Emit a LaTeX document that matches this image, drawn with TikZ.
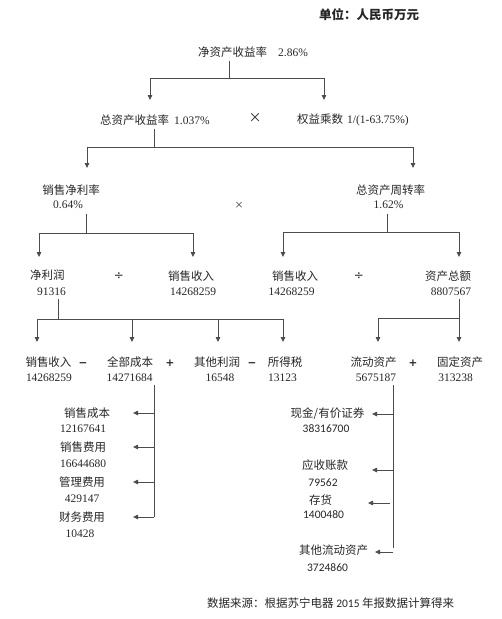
\documentclass[tikz,border=0pt]{standalone}
\usepackage{fontspec}
\setmainfont{Noto Sans CJK SC}
\newfontfamily\cjkf{Noto Sans CJK SC}
\newfontfamily\tnr{Liberation Serif}
\newfontfamily\calfont{Carlito}
\newfontfamily\djv{DejaVu Sans}
\usetikzlibrary{arrows.meta}
\newcommand{\cjkph}{\vphantom{\cjkf\fontsize{11.5}{13}\selectfont 国}}
\begin{document}
\begin{tikzpicture}[x=1pt,y=-1pt,
  txt/.style={inner sep=0pt, text=black!85, font=\fontsize{11.5}{13}\selectfont},
  num/.style={txt, font=\tnr\fontsize{11.5}{13}\selectfont},
  numc/.style={txt, font=\calfont\fontsize{11.5}{13}\selectfont},
  op/.style={txt, font=\djv\bfseries\fontsize{10.5}{13}\selectfont},
  ln/.style={draw=black!70, line width=0.8pt},
  arr/.style={ln, -{Triangle[length=5pt,width=4.5pt]}}]
\useasboundingbox (0,0) rectangle (502,619);

% title
\node[txt, font=\bfseries\fontsize{12.5}{14}\selectfont] (unit) at (369,15) {单位：人民币万元};

% level 0
\node[txt, anchor=west] (roe) at (198,52) {净资产收益率\hspace{11pt}{\tnr 2.86\%}};
% level 1
\node[txt, anchor=west] (roa) at (100,120) {总资产收益率\hspace{5pt}{\tnr 1.037\%}};
\node[txt, font=\fontsize{13}{14}\selectfont] (x1) at (255,118) {×};
\node[txt, anchor=east] (em) at (409,120) {权益乘数\hspace{4pt}{\tnr 1/(1-63.75\%)}};
% level 2
\node[txt] (npm) at (71,190) {销售净利率};
\node[num] (npmv) at (68,205) {0.64\%};
\node[txt, font=\fontsize{9}{10}\selectfont] (x2) at (239,205) {×};
\node[txt] (tat) at (390.5,190) {总资产周转率};
\node[num] (tatv) at (388.5,205) {1.62\%};
% level 3
\node[txt] (np) at (47.5,275) {净利润};
\node[num] (npv) at (51.5,292) {91316};
\node[op, font=\djv\fontsize{12}{13}\selectfont] (d1) at (119,275) {\cjkph÷};
\node[txt] (rev1) at (191,276) {销售收入};
\node[num] (rev1v) at (193,292) {14268259};
\node[txt] (rev2) at (295,276) {销售收入};
\node[num] (rev2v) at (291.5,292) {14268259};
\node[op, font=\djv\fontsize{12}{13}\selectfont] (d2) at (359,275) {\cjkph÷};
\node[txt] (ta) at (448,276) {资产总额};
\node[num] (tav) at (451,292) {8807567};
% level 4
\node[txt] (s1) at (48.5,362) {销售收入};
\node[num] (s1v) at (49,378) {14268259};
\node[op] (o1) at (83,362) {\cjkph−};
\node[txt] (s2) at (130,362) {全部成本};
\node[num] (s2v) at (129.5,378) {14271684};
\node[op] (o2) at (170,362) {\cjkph+};
\node[txt] (s3) at (217,362) {其他利润};
\node[num] (s3v) at (220,378) {16548};
\node[op] (o3) at (252,362) {\cjkph−};
\node[txt] (s4) at (285,362) {所得税};
\node[num] (s4v) at (282.5,378) {13123};
\node[txt] (s5) at (373.5,362) {流动资产};
\node[num] (s5v) at (376,378) {5675187};
\node[op] (o4) at (413,362) {\cjkph+};
\node[txt] (s6) at (460,362) {固定资产};
\node[num] (s6v) at (455.5,378) {313238};
% left sublist
\node[txt] (c1) at (87,413) {销售成本};
\node[num] (c1v) at (83,429) {12167641};
\node[txt] (c2) at (83,447) {销售费用};
\node[num] (c2v) at (83,464) {16644680};
\node[txt] (c3) at (82,482) {管理费用};
\node[num] (c3v) at (82,499) {429147};
\node[txt] (c4) at (82,517) {财务费用};
\node[num] (c4v) at (80,534) {10428};
% right sublist
\node[txt] (a1) at (327.5,414) {现金/有价证券};
\node[numc] (a1v) at (326,429) {38316700};
\node[txt] (a2) at (325,465) {应收账款};
\node[numc] (a2v) at (323,483) {79562};
\node[txt] (a3) at (320.5,500) {存货};
\node[numc] (a3v) at (323.5,515) {1400480};
\node[txt] (a4) at (333.5,550) {其他流动资产};
\node[numc] (a4v) at (327.5,568) {3724860};
% source
\node[txt, anchor=west] (src) at (207,603) {数据来源：根据苏宁电器 {\calfont 2015} 年报数据计算得来};

% junctions and tips
\coordinate (j0) at (229,78);
\coordinate (t0a) at (150,100); \coordinate (t0b) at (324,100);
\coordinate (j1) at (154,147);
\coordinate (t1a) at (87,168); \coordinate (t1b) at (413,168);
\coordinate (j2a) at (86,233);
\coordinate (t2a) at (39,257); \coordinate (t2b) at (193,257);
\coordinate (j2b) at (387,232);
\coordinate (t2c) at (283,257); \coordinate (t2d) at (459,257);
\coordinate (j3a) at (58,319);
\coordinate (t3a) at (37,342); \coordinate (t3b) at (132,342);
\coordinate (t3c) at (218,342); \coordinate (t3d) at (283,342);
\coordinate (j3b) at (459,318);
\coordinate (t3e) at (378,342); \coordinate (t3f) at (459,342);
\coordinate (vL) at (154,385); \coordinate (vLe) at (154,517);
\coordinate (vR) at (393,385); \coordinate (vRe) at (393,548);

% connectors
\draw[ln] (roe.south -| j0) ++(0,3) -- (j0);
\draw[arr] (j0) -| (t0a);
\draw[arr] (j0) -| (t0b);

\draw[ln] (roa.south -| j1) ++(0,3) -- (j1);
\draw[arr] (j1) -| (t1a);
\draw[arr] (j1) -| (t1b);

\draw[ln] (npmv.south -| j2a) ++(0,5) -- (j2a);
\draw[arr] (j2a) -| (t2a);
\draw[arr] (j2a) -| (t2b);

\draw[ln] (tatv.south -| j2b) ++(0,5) -- (j2b);
\draw[arr] (j2b) -| (t2c);
\draw[arr] (j2b) -| (t2d);

\draw[ln] (npv.south -| j3a) ++(0,3) -- (j3a);
\draw[arr] (j3a) -| (t3a);
\draw[arr] (j3a) -| (t3b);
\draw[arr] (j3a) -| (t3c);
\draw[arr] (j3a) -| (t3d);

\draw[arr] (tav.south -| j3b) ++(0,3) -- (t3f);
\draw[arr] (j3b) -| (t3e);

% left vertical list
\draw[ln] (vL) -- (vLe);
\draw[arr] (c1 -| vL) -- ([xshift=-21pt]c1 -| vL);
\draw[arr] (c2 -| vL) -- ([xshift=-21pt]c2 -| vL);
\draw[arr] (c3 -| vL) -- ([xshift=-21pt]c3 -| vL);
\draw[arr] (vLe) -- ([xshift=-21pt]vLe);

% right vertical list
\draw[ln] (vR) -- (vRe);
\draw[arr] (a1 -| vR) -- ([xshift=-21pt]a1 -| vR);
\draw[arr] ([yshift=-5pt]a2 -| vR) -- ([xshift=-21pt,yshift=-5pt]a2 -| vR);
\draw[arr] ([yshift=-3pt]a3 -| vR) ++(-3,0) -- ([xshift=-25pt,yshift=-3pt]a3 -| vR);
\draw[arr] ([yshift=-2pt]a4 -| vR) -- ([xshift=-18pt,yshift=-2pt]a4 -| vR);
\end{tikzpicture}
\end{document}
